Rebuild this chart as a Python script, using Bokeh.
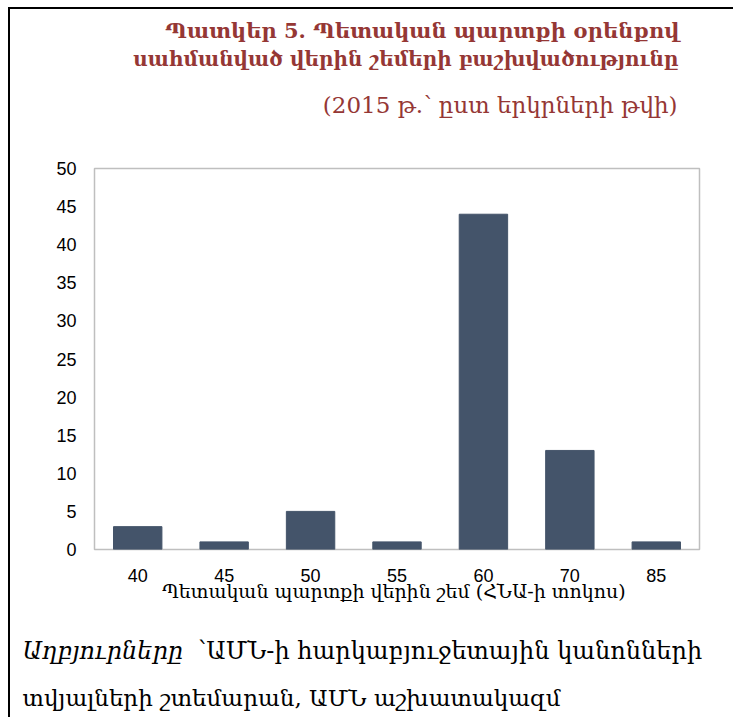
from bokeh.plotting import figure
from bokeh.layouts import column
from bokeh.models import FactorRange, Range1d, SingleIntervalTicker
from bokeh.core.properties import value
from bokeh.embed import file_html
from bokeh.resources import INLINE

# ---- data ----
thresholds = ["40", "45", "50", "55", "60", "70", "85"]
countries = [3, 1, 5, 1, 44, 13, 1]

title_lines = [
    "Պատկեր 5. Պետական պարտքի օրենքով",
    "սահմանված վերին շեմերի բաշխվածությունը",
    "(2015 թ.՝ ըստ երկրների թվի)",
]
x_label = "Պետական պարտքի վերին շեմ  (ՀՆԱ-ի տոկոս)"
source_italic = "Աղբյուրները"
source_rest = "՝ԱՄՆ-ի հարկաբյուջետային կանոնների"
source_line2 = "տվյալների շտեմարան, ԱՄՆ աշխատակազմ"

BAR = "#44546A"
RED = "#953735"
SERIF = "DejaVu Serif"
SANS = "Liberation Sans"
W = 723


def text_panel(h):
    f = figure(width=W, height=h, x_range=Range1d(0, W), y_range=Range1d(h, 0),
               x_axis_type=None, y_axis_type=None, output_backend="svg",
               toolbar_location=None, min_border_left=0, min_border_right=0,
               min_border_top=0, min_border_bottom=0, frame_align=False)
    f.outline_line_color = None
    f.grid.visible = False
    return f


# ---- header ----
HH = 120
head = text_panel(HH)
head.text(x=[669], y=[21], text=title_lines[:1],
          text_align="right", text_baseline="alphabetic",
          text_font=value(SERIF), text_font_size=value("21px"),
          text_font_style="bold", text_color=RED)
head.text(x=[668], y=[49], text=title_lines[1:2],
          text_align="right", text_baseline="alphabetic",
          text_font=value(SERIF), text_font_size=value("20px"),
          text_font_style="bold", text_color=RED)
head.text(x=[667], y=[95], text=title_lines[2:],
          text_align="right", text_baseline="alphabetic",
          text_font=value(SERIF), text_font_size=value("23px"),
          text_color=RED)

# ---- main chart ----
MH = 486
p = figure(
    width=W, height=MH,
    x_range=FactorRange(*thresholds, range_padding=0),
    y_range=Range1d(0, 50),
    output_backend="svg", toolbar_location=None, frame_align=False,
    min_border_left=84, min_border_right=34,
    min_border_top=39, min_border_bottom=66,
)
p.vbar(x=thresholds, top=countries, width=0.56, color=BAR)
p.xgrid.visible = False
p.ygrid.visible = False
p.outline_line_color = "#BFBFBF"
p.outline_line_width = 1.5
p.yaxis.ticker = SingleIntervalTicker(interval=5)
for ax in (p.xaxis, p.yaxis):
    ax.axis_line_color = None
    ax.major_tick_line_color = None
    ax.minor_tick_line_color = None
    ax.major_label_text_font = SANS
    ax.major_label_text_font_size = "18px"
    ax.major_label_text_color = "#000000"
p.yaxis.major_label_standoff = 12
p.xaxis.major_label_standoff = 13
p.xaxis.axis_label = x_label
p.xaxis.axis_label_text_font = SERIF
p.xaxis.axis_label_text_font_style = "normal"
p.xaxis.axis_label_text_font_size = "19px"
p.xaxis.axis_label_text_color = "#000000"
p.xaxis.axis_label_standoff = -5

# ---- footer ----
FH = 717 - 9 - HH - MH
foot = text_panel(FH)
foot.text(x=[12], y=[35], text=[source_italic], text_baseline="alphabetic",
          text_font=value(SERIF), text_font_size=value("24px"),
          text_font_style="italic", text_color="#000000")
foot.text(x=[187], y=[35], text=[source_rest], text_baseline="alphabetic",
          text_font=value(SERIF), text_font_size=value("24px"),
          text_color="#000000")
foot.text(x=[12], y=[82], text=[source_line2], text_baseline="alphabetic",
          text_font=value(SERIF), text_font_size=value("23px"),
          text_color="#000000")

layout = column(head, p, foot, spacing=0)
layout.styles = {"margin-left": "8px", "margin-top": "7px",
                 "border-left": "2px solid black", "border-top": "2px solid black"}

open("out.html", "w").write(file_html(layout, INLINE))
